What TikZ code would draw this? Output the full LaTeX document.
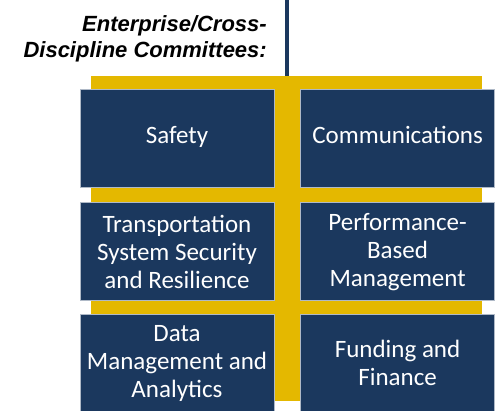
\documentclass[tikz,border=0pt]{standalone}
\usepackage{fontspec}
\setmainfont{Carlito}
\newfontfamily\headfont{Liberation Sans}
\usepackage{tikz}
\usetikzlibrary{positioning}
\definecolor{navy}{RGB}{27,56,94}
\definecolor{gold}{RGB}{228,184,0}
\tikzset{c/.style={rectangle,fill=navy,draw=navy!35!white,line width=0.6pt,text=white,align=center,inner sep=0pt,minimum width=194pt,minimum height=98pt,font=\fontsize{25}{28}\selectfont}}
\tikzset{h/.style={font=\headfont\bfseries\itshape\fontsize{22}{26}\selectfont,align=right,inner sep=0pt}}

\begin{document}
\begin{tikzpicture}[x=1pt,y=-1pt]
        \useasboundingbox (0,0) rectangle (500,411);
        \node (panel) [fill=gold,minimum width=391pt,minimum height=325pt,inner sep=0pt] at (286.5,238.5) {};
        \coordinate (top) at (287,0);
        \draw[navy,line width=4pt] (top) -- (panel.north -| top);
        \node (head) [h,anchor=north east] at (267,15) {Enterprise/Cross-\\Discipline Committees:};
        \node (safety) [c] at (177,138) {\strut Safety};
        \node (comm) [c,right=26pt of safety] {\strut Communications};
        \node (tssr) [c,below=15pt of safety] {Transportation\\System Security\\and Resilience};
        \node (pbm) [c,right=26pt of tssr] {Performance-\\Based\\Management};
        \node (data) [c,below=13pt of tssr] {Data\\Management and\\Analytics};
        \node (fund) [c,right=26pt of data] {Funding and\\Finance};
      \end{tikzpicture}
\end{document}
